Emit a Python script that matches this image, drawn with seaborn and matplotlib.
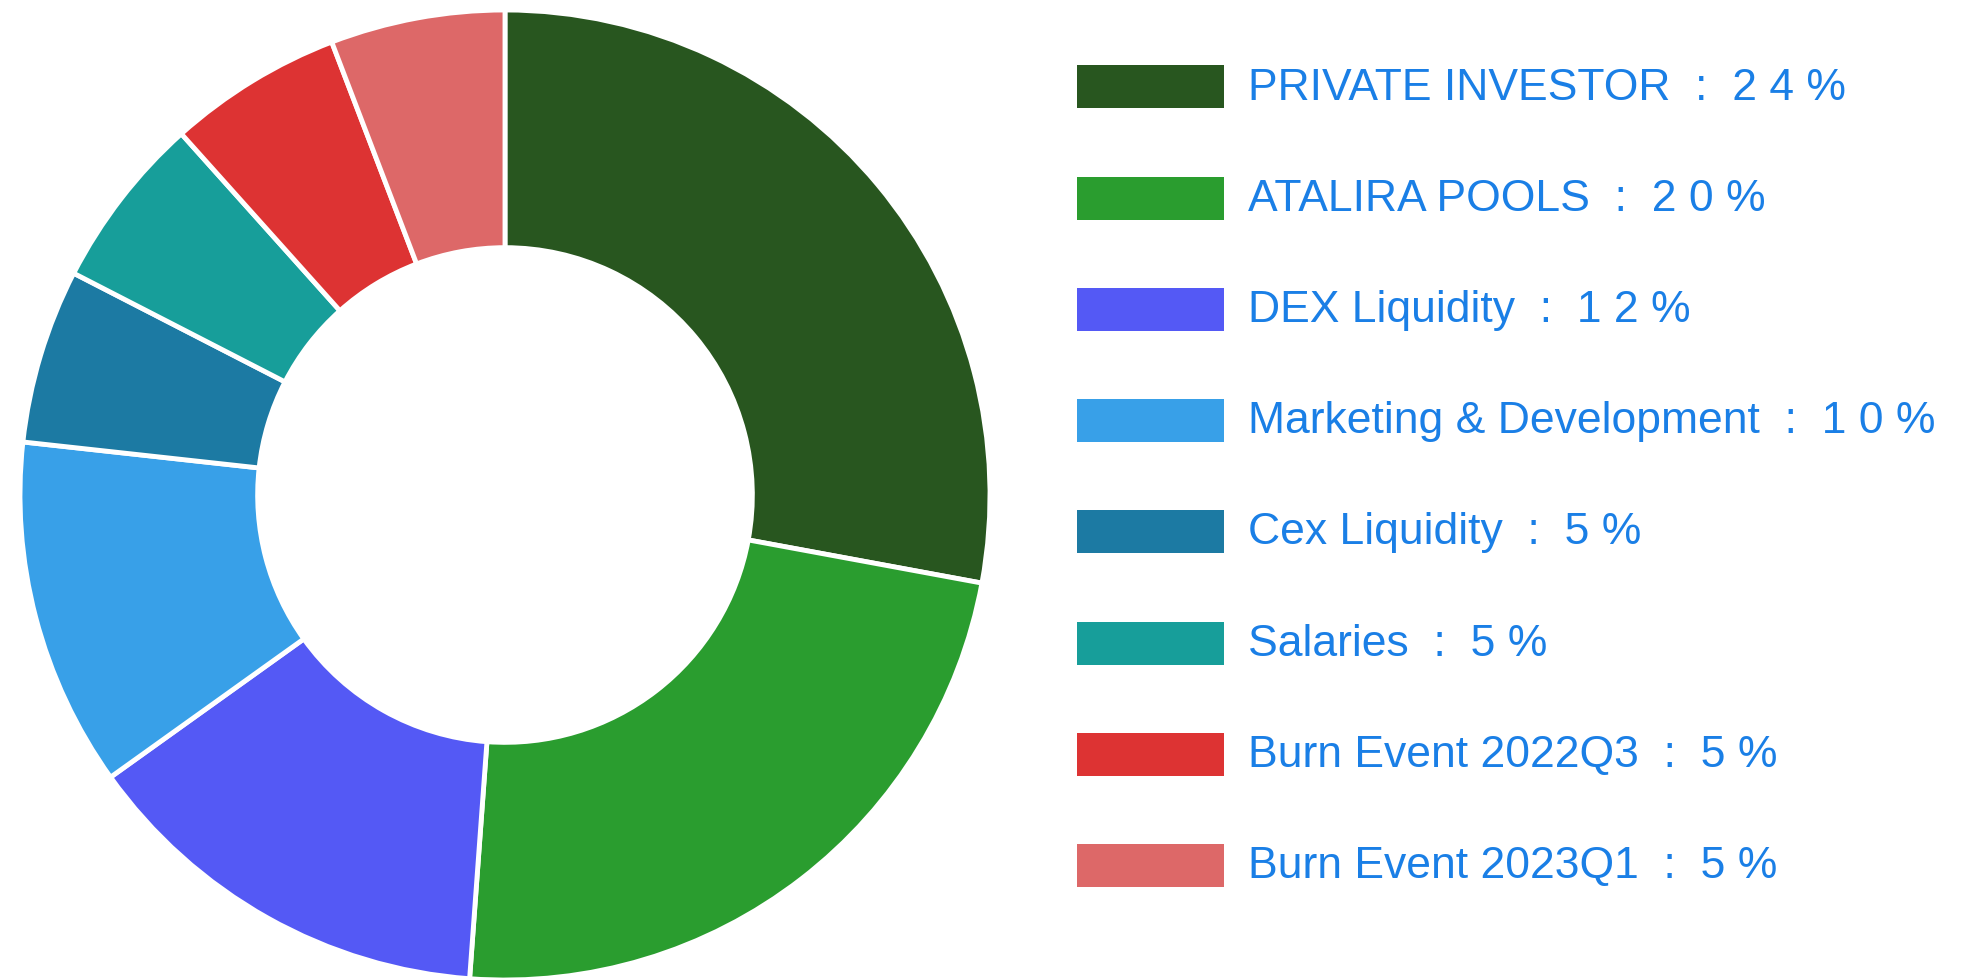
# Token allocation donut chart with a custom legend on the right
import matplotlib
matplotlib.use("Agg")
import matplotlib.pyplot as plt
import seaborn as sns
from matplotlib.patches import Rectangle

labels = ["PRIVATE INVESTOR", "ATALIRA POOLS", "DEX Liquidity", "Marketing & Development",
          "Cex Liquidity", "Salaries", "Burn Event 2022Q3", "Burn Event 2023Q1"]
shares = [24, 20, 12, 10, 5, 5, 5, 5]
colors = ["#28561f", "#2a9d2f", "#5459f5", "#38a0e8", "#1c7aa3", "#179e9a", "#dd3333", "#dd6868"]

sns.set_theme(style="white")
plt.rcParams['font.family'] = ['Liberation Sans', 'DejaVu Sans']
palette = sns.color_palette(colors)

W, H = 1983, 980
fig = plt.figure(figsize=(W / 100, H / 100), dpi=100)

# donut
ax = fig.add_axes([20 / W, 0.0, 970 / W, 970 / H])
ax.pie(shares, colors=palette, startangle=90, counterclock=False, radius=1.0,
       wedgeprops=dict(width=0.49, edgecolor="white", linewidth=3.5))
ax.set_xlim(-1.0, 1.0)
ax.set_ylim(-1.0, 1.0)
ax.set_aspect("equal")
ax.axis("off")

# legend drawn in pixel space
lax = fig.add_axes([0, 0, 1, 1])
lax.set_xlim(0, W)
lax.set_ylim(H, 0)
lax.axis("off")
y0, step = 87, 111.2
for i, (lab, val) in enumerate(zip(labels, shares)):
    y = y0 + i * step
    lax.add_patch(Rectangle((1077, y - 21.5), 147, 43, facecolor=palette[i], edgecolor="none"))
    txt = f"{lab}  :  {' '.join(str(val))} %"
    lax.text(1248, y + 1, txt, fontsize=32, color="#1a7fe6", va="center", ha="left")

fig.savefig("out.png", dpi=100, facecolor="white")
